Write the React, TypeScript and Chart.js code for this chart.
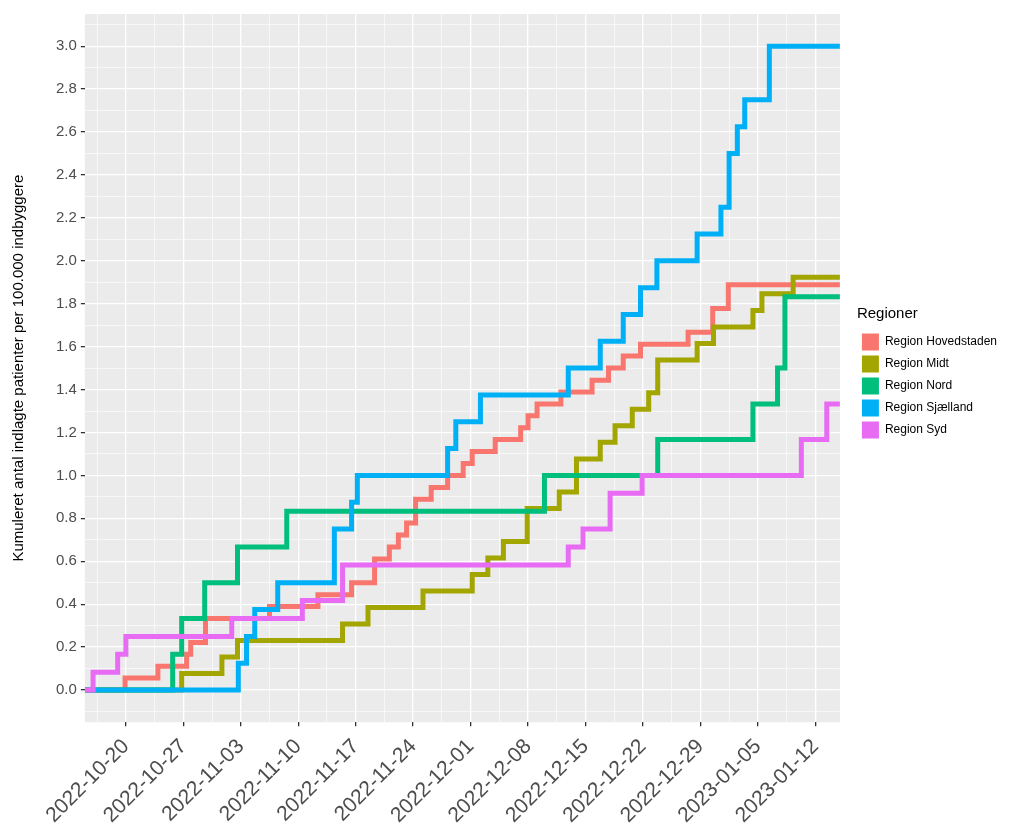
import React, { useEffect, useRef } from 'react';
import Chart from 'chart.js/auto';

// x = days since 2022-10-15
const startDate = new Date(2022, 9, 15);
const seriesNames = ['Region Hovedstaden', 'Region Midt', 'Region Nord', 'Region Sjælland', 'Region Syd'];
const seriesColors = ['#F8766D', '#A3A500', '#00BF7D', '#00B0F6', '#E76BF3'];

const hovedDays = [4.9, 8.9, 12.4, 12.9, 14.7, 22.5, 28.4, 32.5, 35.3, 37.1, 38.2, 39.2, 40.3, 42.2, 44.2, 46.1, 47.2, 50, 53.1, 54, 55.1, 58, 61.8, 63.8, 65.6, 67.7, 73.5, 76.5, 78.4];
const hovedVals = [0.056, 0.111, 0.167, 0.222, 0.333, 0.389, 0.444, 0.5, 0.611, 0.667, 0.722, 0.778, 0.889, 0.944, 1.0, 1.056, 1.111, 1.167, 1.222, 1.278, 1.333, 1.389, 1.444, 1.5, 1.556, 1.611, 1.667, 1.778, 1.889];

const midtDays = [11.8, 16.7, 18.6, 31.4, 34.5, 41.2, 47.2, 49.1, 51, 53.9, 57.8, 59.9, 62.8, 64.6, 66.7, 68.7, 69.8, 74.6, 76.6, 81.4, 82.5, 86.3];
const midtVals = [0.077, 0.154, 0.231, 0.308, 0.385, 0.462, 0.538, 0.615, 0.692, 0.846, 0.923, 1.077, 1.154, 1.231, 1.308, 1.385, 1.538, 1.615, 1.692, 1.769, 1.846, 1.923];

const nordDays = [10.7, 11.8, 14.6, 18.6, 24.6, 56, 69.8, 81.4, 84.4, 85.3];
const nordVals = [0.167, 0.333, 0.5, 0.667, 0.833, 1.0, 1.167, 1.333, 1.5, 1.833];

const sjaelDays = [18.7, 19.7, 20.7, 23.5, 30.4, 32.5, 33.2, 44.2, 45.2, 48.2, 58.9, 62.8, 65.6, 67.7, 69.7, 74.6, 77.5, 78.5, 79.5, 80.4, 83.4];
const sjaelVals = [0.125, 0.25, 0.375, 0.5, 0.75, 0.875, 1.0, 1.125, 1.25, 1.375, 1.5, 1.625, 1.75, 1.875, 2.0, 2.125, 2.25, 2.5, 2.625, 2.75, 3.0];

const sydDays = [1, 4, 5, 17.9, 26.5, 31.4, 58.9, 60.7, 64, 67.9, 87.3, 90.4];
const sydVals = [0.083, 0.167, 0.25, 0.333, 0.417, 0.583, 0.667, 0.75, 0.917, 1.0, 1.167, 1.333];

const xMax = 92;
const legendGap = 17;
const legendLift = 50;

const stepData = (days: number[], vals: number[]) => {
  const pts = [{ x: 0, y: 0 }];
  days.forEach((d, i) => pts.push({ x: d, y: vals[i] }));
  pts.push({ x: xMax, y: vals[vals.length - 1] });
  return pts;
};

const fmtDate = (v: number) => {
  const d = new Date(startDate.getTime() + Math.round(v) * 86400000);
  const mm = String(d.getMonth() + 1).padStart(2, '0');
  const dd = String(d.getDate()).padStart(2, '0');
  return `${d.getFullYear()}-${mm}-${dd}`;
};

const isMajorX = (v: number) => Math.abs((((v - 5) % 7) + 7) % 7) < 0.01;

const panelBg = {
  id: 'panelBg',
  beforeDraw(chart: any) {
    const { ctx, chartArea } = chart;
    ctx.save();
    ctx.fillStyle = '#EBEBEB';
    ctx.fillRect(chartArea.left, chartArea.top, chartArea.width, chartArea.height);
    ctx.restore();
  },
};

// leave a gap between the panel and the legend, like ggplot
const legendShift = {
  id: 'legendShift',
  beforeLayout(chart: any) {
    const lg = chart.legend;
    if (lg && !lg._patched) {
      const orig = lg.fit.bind(lg);
      lg.fit = () => {
        orig();
        lg.width += legendGap;
      };
      lg._patched = true;
    }
  },
  afterLayout(chart: any) {
    const lg = chart.legend;
    if (lg) {
      lg.left += legendGap;
      lg.top -= legendLift;
      lg.bottom -= legendLift;
      lg.adjustHitBoxes();
    }
  },
};

const App: React.FC = () => {
  const chartRef = useRef<HTMLCanvasElement | null>(null);
  const chartInstanceRef = useRef<Chart | null>(null);

  useEffect(() => {
    document.body.style.margin = '0';
    if (chartRef.current) {
      const ctx = chartRef.current.getContext('2d');
      if (ctx) {
        const all = [
          [hovedDays, hovedVals],
          [midtDays, midtVals],
          [nordDays, nordVals],
          [sjaelDays, sjaelVals],
          [sydDays, sydVals],
        ];
        chartInstanceRef.current = new Chart(ctx, {
          type: 'line',
          data: {
            datasets: all.map(([d, v], i) => ({
              label: seriesNames[i],
              data: stepData(d, v),
              borderColor: seriesColors[i],
              backgroundColor: seriesColors[i],
              borderWidth: 5,
              stepped: true,
              pointRadius: 0,
              fill: false,
              order: 5 - i,
            })),
          },
          plugins: [panelBg, legendShift],
          options: {
            animation: false,
            responsive: false,
            layout: { padding: { top: 14, right: 25, left: 6, bottom: -4 } },
            plugins: {
              tooltip: { enabled: false },
              legend: {
                position: 'right',
                align: 'center',
                title: { display: true, position: 'start', text: 'Regioner', color: '#000', font: { size: 15, family: 'Arial' }, padding: { top: 0, bottom: 4 } },
                labels: {
                  sort: (a: any, b: any) => a.datasetIndex - b.datasetIndex,
                  boxWidth: 17,
                  boxHeight: 17,
                  padding: 5,
                  color: '#000',
                  font: { size: 12, family: 'Arial' },
                  generateLabels: (chart: any) =>
                    chart.data.datasets.map((ds: any, i: number) => ({
                      text: ds.label,
                      fillStyle: ds.borderColor,
                      strokeStyle: ds.borderColor,
                      lineWidth: 0,
                      datasetIndex: i,
                    })),
                },
              },
            },
            scales: {
              x: {
                type: 'linear',
                min: 0,
                max: xMax,
                afterBuildTicks: (axis: any) => {
                  const t = [];
                  for (let v = 1.5; v <= xMax; v += 3.5) t.push({ value: v });
                  axis.ticks = t;
                },
                ticks: {
                  autoSkip: false,
                  maxRotation: 45,
                  minRotation: 45,
                  color: '#4D4D4D',
                  font: { size: 21, family: 'Arial' },
                  padding: 8,
                  callback: (v: any) => (isMajorX(v) ? fmtDate(v) : ''),
                },
                grid: {
                  color: '#FFFFFF',
                  lineWidth: (c: any) => (c.tick && isMajorX(c.tick.value) ? 1.3 : 0.6),
                  tickColor: (c: any) => (c.tick && isMajorX(c.tick.value) ? '#333' : 'rgba(0,0,0,0)'),
                  tickLength: 4,
                },
                border: { display: false },
              },
              y: {
                min: -0.15,
                max: 3.15,
                afterBuildTicks: (axis: any) => {
                  const t = [];
                  for (let k = -1; k <= 31; k++) t.push({ value: k / 10 });
                  axis.ticks = t;
                },
                ticks: {
                  autoSkip: false,
                  color: '#4D4D4D',
                  font: { size: 15, family: 'Arial' },
                  padding: 4,
                  callback: (v: any) => {
                    const k = Math.round(v * 10);
                    return k >= 0 && k % 2 === 0 ? (k / 10).toFixed(1) : '';
                  },
                },
                title: {
                  display: true,
                  text: 'Kumuleret antal indlagte patienter per 100.000 indbyggere',
                  color: '#000',
                  font: { size: 15, family: 'Arial' },
                  padding: { top: 4, bottom: 24 },
                },
                grid: {
                  color: '#FFFFFF',
                  lineWidth: (c: any) => (c.tick && Math.round(c.tick.value * 10) % 2 === 0 ? 1.3 : 0.6),
                  tickColor: (c: any) => (c.tick && Math.round(c.tick.value * 10) % 2 === 0 && c.tick.value >= 0 ? '#333' : 'rgba(0,0,0,0)'),
                  tickLength: 4,
                },
                border: { display: false },
              },
            },
          },
        });
      }
    }
    return () => {
      if (chartInstanceRef.current) {
        chartInstanceRef.current.destroy();
      }
    };
  }, []);

  return (
    <div style={{ width: 1032, height: 832, background: '#fff' }}>
      <canvas ref={chartRef} width={1032} height={832} />
    </div>
  );
};

export default App;
